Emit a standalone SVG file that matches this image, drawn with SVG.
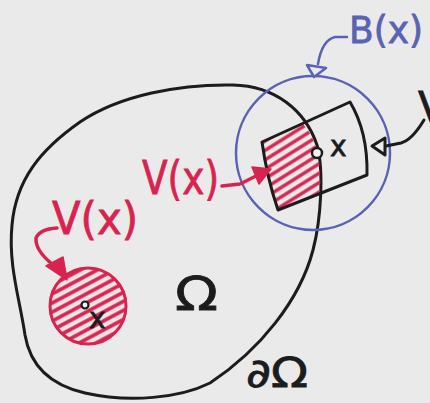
<svg xmlns="http://www.w3.org/2000/svg" width="430" height="403" viewBox="0 0 430 403">
<style>
.blk{fill:none;stroke:#1c1c1e;stroke-width:3;stroke-linecap:round;stroke-linejoin:round}
.blu{fill:none;stroke:#5a62b4;stroke-width:2.5;stroke-linecap:round;stroke-linejoin:round}
.red{fill:none;stroke:#d9234f;stroke-width:3.5;stroke-linecap:round;stroke-linejoin:round}
.lbl{font-family:"DejaVu Sans","Liberation Sans",sans-serif}
.rt{fill:#d9234f;stroke:#d9234f;stroke-width:0.8}
.bt{fill:#5a62b4;stroke:#5a62b4;stroke-width:0.8}
.kt{fill:#1c1c1e;stroke:#1c1c1e;stroke-width:0.8}
</style>
<defs>
<pattern id="hatch" width="8" height="8" patternUnits="userSpaceOnUse" patternTransform="rotate(-32)">
<line x1="-1" y1="4" x2="9" y2="4" stroke="#d9234f" stroke-width="3.4"/>
</pattern>
<pattern id="hatch2" width="8" height="8" patternUnits="userSpaceOnUse" patternTransform="rotate(-28)">
<rect width="8" height="8" fill="#f1e4e7"/>
<line x1="-1" y1="4" x2="9" y2="4" stroke="#d9234f" stroke-width="3.6"/>
</pattern>
</defs>
<rect width="430" height="403" fill="#eaeaea"/>

<g id="domain">
<path class="blk" d="M233 85 C275 86,305 110,317 145 C324 170,321 220,313 250 C300 300,260 350,210 383 C180 398,130 403,85 393 C50 385,30 365,25 335 C20 300,8 265,12 225 C16 180,40 150,80 122 C120 95,180 84,233 85 Z"/>
<text class="lbl kt" x="175" y="310" font-size="46" textLength="43" lengthAdjust="spacingAndGlyphs">Ω</text>
<text class="lbl kt" x="246" y="387" font-size="40" textLength="62" lengthAdjust="spacingAndGlyphs">∂Ω</text>
</g>

<g id="ball">
<circle class="blu" cx="313" cy="153" r="77"/>
<text class="lbl bt" x="349" y="43" font-size="37" textLength="74" lengthAdjust="spacingAndGlyphs">B(x)</text>
</g>

<g id="cell">
<path fill="url(#hatch)" d="M262 142 L303 124 Q316 138 319 160 Q321 178 320 192 L278 210 Q267 178 262 142 Z"/>
<path class="blk" d="M262 142 L350 102 Q368 132 367 175 L278 210 Q267 178 262 142 Z"/>
<circle cx="317" cy="153" r="5" fill="#f2f2f2" stroke="#1c1c1e" stroke-width="2.5"/>
<text class="lbl kt" x="330" y="156" font-size="28">x</text>
</g>

<g id="small-volume">
<circle cx="88" cy="306" r="38" fill="url(#hatch2)" stroke="#d9234f" stroke-width="3"/>
<circle cx="85" cy="305" r="3.5" fill="#f2f2f2" stroke="#1c1c1e" stroke-width="2.2"/>
<text class="lbl kt" x="89" y="328" font-size="28">x</text>
</g>

<g id="labels">
<text class="lbl rt" x="142" y="194" font-size="46" textLength="77" lengthAdjust="spacingAndGlyphs">V(x)</text>
<text class="lbl rt" x="52" y="234" font-size="44" textLength="86" lengthAdjust="spacingAndGlyphs">V(x)</text>
<text class="lbl kt" x="418" y="122" font-size="42">V</text>
</g>

<g id="connectors">
<path class="red" d="M222 186 L240 184 L256 176"/>
<polygon fill="#d9234f" stroke="#d9234f" stroke-width="1.5" stroke-linejoin="round" points="271,169 252,167 259,184"/>
<path class="red" d="M57 228 Q40 229 36 238 Q35 250 52 264"/>
<polygon fill="#d9234f" stroke="#d9234f" stroke-width="1.5" stroke-linejoin="round" points="67,280 46,266 63,257"/>
<path class="blu" stroke-width="3" d="M347 37 L335 37 Q322 40 318 64"/>
<polygon fill="#eaeaea" stroke="#5a62b4" stroke-width="2.5" stroke-linejoin="round" points="314,77 307,65 326,68"/>
<path class="blk" d="M424 120 Q412 140 401 143 L386 146"/>
<polygon fill="#eaeaea" stroke="#1c1c1e" stroke-width="3" stroke-linejoin="round" points="372,146 385,138 385,155"/>
</g>
</svg>
